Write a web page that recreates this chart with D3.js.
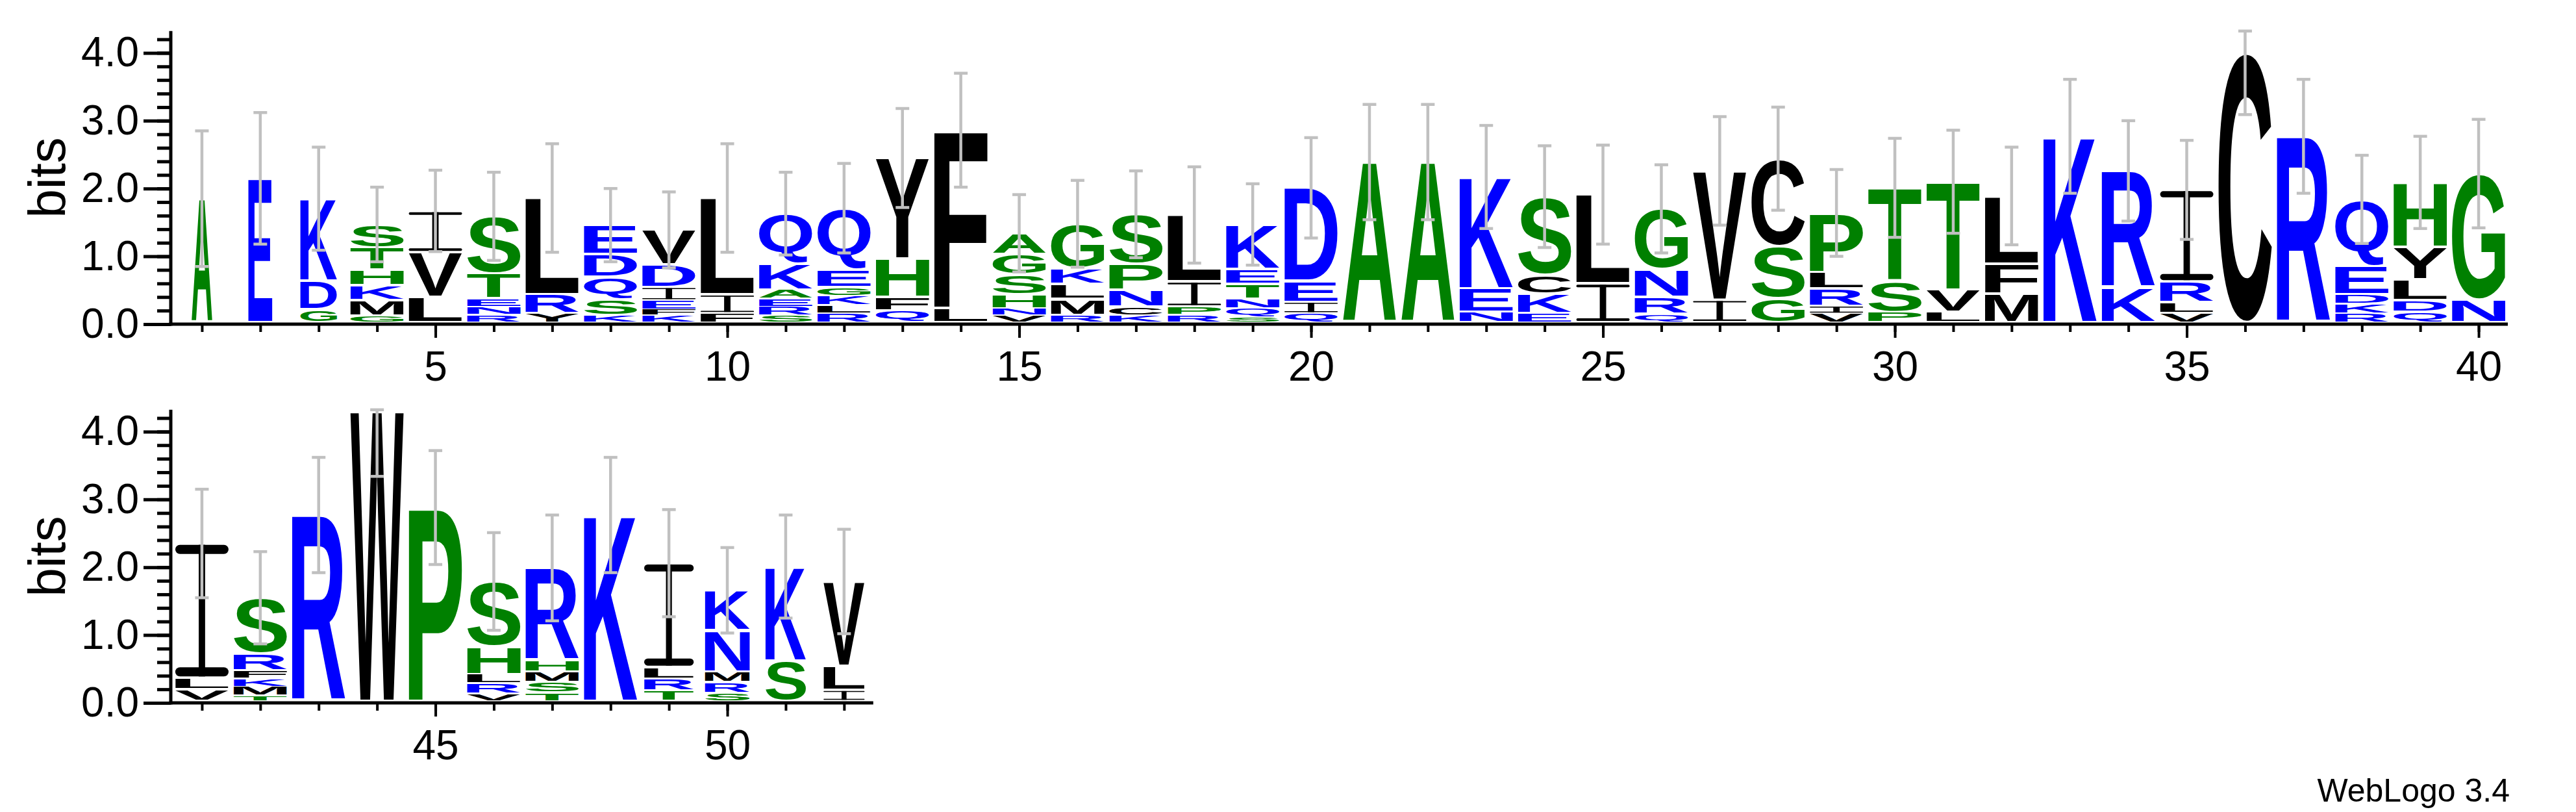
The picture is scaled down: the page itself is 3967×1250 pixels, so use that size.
<!DOCTYPE html>
<html>
<head>
<meta charset="utf-8">
<script src="https://cdn.jsdelivr.net/npm/d3@7"></script>
<style>
  body { margin: 0; background: #fff; }
  text { font-family: "Liberation Sans", Arial, sans-serif; }
</style>
</head>
<body>
<svg id="logo" width="3967" height="1250"></svg>
<script>
// letters of each stack, bottom to top (position = index + 1)
const letters = [
  "A", "E", "GDK", "GMKHTS", "LVI", "RNETS", "YRL", "KSQDE", "KFEIDV", "FIL",
  "SREAKQ", "RLKGEQ", "QFHY", "LF", "VNHSGA", "RMLKG", "KCNPS", "RPIL", "SQNTEK", "QIED",
  "A", "A", "NEK", "EKCS", "IL", "QRNG", "IV", "GSC", "VIRLP", "PST",
  "LVT", "MFL", "K", "KR", "VLRI", "C", "R", "RKDEQ", "QDLYH", "NG",
  "VLI", "TMKFRS", "R", "W", "P", "VRLHS", "TSMHR", "K", "TRLI", "SRMNK",
  "SK", "ILV"
];
// bits carried by each letter, same order
const heights = [
  [1.85], [2.15], [0.22, 0.42, 1.21], [0.12, 0.23, 0.22, 0.23, 0.33, 0.34],
  [0.40, 0.66, 0.61], [0.14, 0.12, 0.12, 0.37, 0.84], [0.16, 0.28, 1.42],
  [0.13, 0.24, 0.33, 0.33, 0.43], [0.13, 0.09, 0.13, 0.2, 0.33, 0.51], [0.16, 0.28, 1.42],
  [0.13, 0.13, 0.12, 0.13, 0.38, 0.74], [0.16, 0.12, 0.14, 0.13, 0.26, 0.9],
  [0.2, 0.2, 0.57, 1.48], [0.24, 2.62], [0.13, 0.1, 0.21, 0.29, 0.3, 0.31],
  [0.13, 0.24, 0.22, 0.23, 0.66], [0.13, 0.13, 0.25, 0.38, 0.73], [0.14, 0.12, 0.37, 0.98],
  [0.11, 0.13, 0.13, 0.22, 0.22, 0.66], [0.16, 0.17, 0.31, 1.37],
  [2.39], [2.39], [0.18, 0.35, 1.64], [0.16, 0.29, 0.28, 1.15], [0.6, 1.31],
  [0.15, 0.25, 0.41, 0.89], [0.36, 1.9], [0.38, 0.77, 1.29], [0.16, 0.11, 0.26, 0.24, 0.87],
  [0.18, 0.46, 1.37], [0.18, 0.33, 1.59], [0.45, 0.44, 1.0], [2.77], [0.54, 1.72],
  [0.17, 0.15, 0.31, 1.35], [4.0], [2.77], [0.16, 0.14, 0.14, 0.42, 0.98],
  [0.18, 0.17, 0.31, 0.48, 0.95], [0.36, 1.86],
  [0.2, 0.17, 1.98], [0.11, 0.13, 0.12, 0.12, 0.25, 0.82], [2.77], [4.30], [2.88],
  [0.14, 0.15, 0.13, 0.41, 0.96], [0.15, 0.16, 0.15, 0.17, 1.36], [2.77],
  [0.18, 0.18, 0.17, 1.53], [0.15, 0.16, 0.15, 0.61, 0.59], [0.62, 1.39], [0.19, 0.36, 1.24]
];
// half length of each error bar, bits
const errors = [
  1.0, 0.97, 0.76, 0.55, 0.6, 0.65, 0.8, 0.54, 0.56, 0.8,
  0.61, 0.66, 0.73, 0.84, 0.57, 0.64, 0.64, 0.71, 0.6, 0.74,
  0.85, 0.85, 0.76, 0.75, 0.73, 0.65, 0.8, 0.76, 0.64, 0.73,
  0.76, 0.72, 0.84, 0.74, 0.73, 0.91, 0.84, 0.65, 0.68, 0.8,
  0.8, 0.68, 0.85, 0.96, 0.84, 0.72, 0.78, 0.85, 0.79, 0.63,
  0.76, 0.77
];
// column occupancy (stack width relative to a full column)
const occupancy = [
  0.39, 0.45, 0.69, 1, 1, 1, 1, 1, 1, 1,
  1, 1, 1, 1, 1, 1, 1, 1, 1, 1,
  1, 1, 1, 1, 1, 1, 1, 1, 1, 1,
  1, 1, 1, 1, 1, 1, 1, 1, 1, 1,
  1, 1, 1, 1, 1, 1, 1, 1, 0.93, 0.84,
  0.76, 0.77
];
const rowRanges = [[1, 40], [41, 52]];
const yTickLabels = ["0.0", "1.0", "2.0", "3.0", "4.0"];
const hydrophilic = "RKDENQ", neutral = "SGHTAP", hydrophobic = "YVMCLFIW";

const maxBits = Math.log2(20);
const pxPerBit = 104.4;
const rowBase = [499, 1082];
const axisX = 263;
const colW = 89.9;
const letterW = 82;

const color = c => hydrophilic.includes(c) ? "#0000ff" : neutral.includes(c) ? "#008000" : "#000000";

const svg = d3.select("#logo");
svg.append("rect").attr("width", 3967).attr("height", 1250).attr("fill", "#fff");

// tight glyph boxes, so each letter can be stretched to fill its cell
const ctx = document.createElement("canvas").getContext("2d");
ctx.font = "bold 200px 'Liberation Sans'";
const metrics = {};
function glyph(ch) {
  if (!metrics[ch]) {
    const m = ctx.measureText(ch);
    metrics[ch] = { l: m.actualBoundingBoxLeft, r: m.actualBoundingBoxRight,
                    a: m.actualBoundingBoxAscent, d: m.actualBoundingBoxDescent };
  }
  return metrics[ch];
}

function drawLetter(g, ch, x0, yTop, w, h) {
  const fill = color(ch);
  if (ch === "I") {
    // weblogo draws I with bars top and bottom
    const t = Math.max(1.5, h * 0.07), stem = w * 0.12;
    g.append("rect").attr("x", x0).attr("y", yTop).attr("width", w).attr("height", t).attr("rx", t / 2).attr("fill", fill);
    g.append("rect").attr("x", x0).attr("y", yTop + h - t).attr("width", w).attr("height", t).attr("rx", t / 2).attr("fill", fill);
    g.append("rect").attr("x", x0 + (w - stem) / 2).attr("y", yTop).attr("width", stem).attr("height", h).attr("fill", fill);
    return;
  }
  const m = glyph(ch);
  const sx = w / (m.l + m.r), sy = h / (m.a + m.d);
  g.append("text")
    .text(ch)
    .attr("font-size", 200)
    .attr("font-weight", "bold")
    .attr("fill", fill)
    .attr("transform", `translate(${x0 + m.l * sx},${yTop + m.a * sy}) scale(${sx},${sy})`);
}

rowRanges.forEach(([first, last], r) => {
  const base = rowBase[r];
  const x = d3.scaleLinear().domain([first - 0.5, last + 0.5])
    .range([axisX + 3, axisX + 3 + (last - first + 1) * colW]);
  const y = d3.scaleLinear().domain([0, maxBits]).range([base, base - maxBits * pxPerBit]);
  const row = svg.append("g");

  const positions = d3.range(first, last + 1);

  // letter stacks
  const stacks = row.append("g");
  positions.forEach(p => {
    const ls = letters[p - 1], hs = heights[p - 1];
    const w = letterW * occupancy[p - 1];
    let cum = 0;
    ls.split("").forEach((ch, i) => {
      const bottom = i === 0 ? y(0) - 3 : y(cum);
      cum += hs[i];
      const top = y(cum);
      const h = bottom - top;
      const inset = Math.min(2, h * 0.1);
      drawLetter(stacks, ch, x(p) - w / 2, top + inset, w, h - 2 * inset);
    });
  });

  // error bars
  const bars = row.append("g").attr("stroke", "#c0c0c0").attr("stroke-width", 4.5);
  positions.forEach(p => {
    const tot = d3.sum(heights[p - 1]);
    const lo = y(tot - errors[p - 1]);
    const hi = y(Math.min(maxBits, tot + errors[p - 1]));
    const cx = x(p);
    bars.append("line").attr("x1", cx).attr("x2", cx).attr("y1", lo).attr("y2", hi);
    bars.append("line").attr("x1", cx - 10.5).attr("x2", cx + 10.5).attr("y1", lo).attr("y2", lo);
    bars.append("line").attr("x1", cx - 10.5).attr("x2", cx + 10.5).attr("y1", hi).attr("y2", hi);
  });

  // y axis: minor ticks every 0.2, labelled ticks at whole bits
  row.append("g").attr("transform", `translate(${axisX},0)`)
    .call(d3.axisLeft(y).tickValues(d3.range(0, 4.3, 0.2)).tickSize(21).tickFormat(""))
    .call(g => g.select(".domain").remove())
    .call(g => g.selectAll("line").attr("stroke-width", 5));
  row.append("g").attr("transform", `translate(${axisX},0)`)
    .call(d3.axisLeft(y).tickValues(yTickLabels.map(Number)).tickSize(42).tickPadding(7)
      .tickFormat((d, i) => yTickLabels[i]))
    .call(g => g.select(".domain").remove())
    .call(g => g.selectAll("line").attr("stroke-width", 5))
    .call(g => g.selectAll("text").attr("font-size", 64).attr("font-family", "Liberation Sans"));
  row.append("line").attr("x1", axisX).attr("x2", axisX)
    .attr("y1", y(maxBits)).attr("y2", base + 2.5)
    .attr("stroke", "#000").attr("stroke-width", 5);

  // x axis
  row.append("g").attr("transform", `translate(0,${base})`)
    .call(d3.axisBottom(x).tickValues(positions).tickSize(12).tickFormat(""))
    .call(g => g.select(".domain").remove())
    .call(g => g.selectAll("line").attr("stroke-width", 4));
  row.append("g").attr("transform", `translate(0,${base})`)
    .call(d3.axisBottom(x).tickValues(positions.filter(p => p % 5 === 0)).tickSize(21).tickPadding(21))
    .call(g => g.select(".domain").remove())
    .call(g => g.selectAll("line").attr("stroke-width", 4))
    .call(g => g.selectAll("text").attr("font-size", 64).attr("font-family", "Liberation Sans"));
  row.append("line").attr("x1", axisX - 2.5).attr("x2", x(last + 0.5))
    .attr("y1", base).attr("y2", base)
    .attr("stroke", "#000").attr("stroke-width", 5);

  row.append("text")
    .attr("transform", `translate(100,${y(maxBits / 2)}) rotate(-90)`)
    .attr("text-anchor", "middle")
    .attr("font-size", 80)
    .text("bits");
});

svg.append("text")
  .attr("x", 3865).attr("y", 1234)
  .attr("text-anchor", "end")
  .attr("font-size", 50)
  .text("WebLogo 3.4");
</script>
</body>
</html>
